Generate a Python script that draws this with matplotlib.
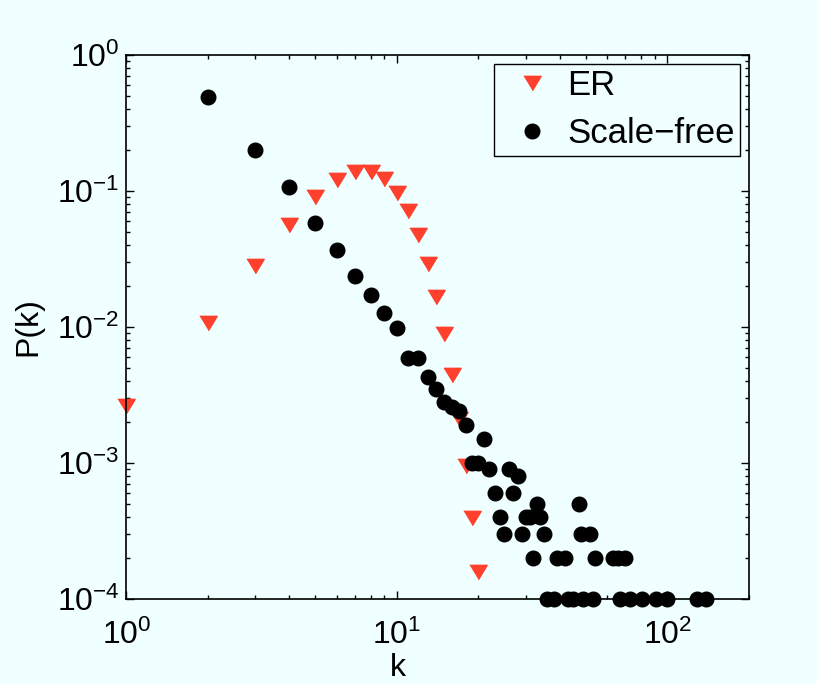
import matplotlib
matplotlib.use("Agg")
import matplotlib.pyplot as plt

# 字体：Helvetica 风格
plt.rcParams["font.family"] = ["Liberation Sans", "DejaVu Sans"]
plt.rcParams["mathtext.fontset"] = "custom"
plt.rcParams["mathtext.rm"] = "Liberation Sans"
plt.rcParams["mathtext.it"] = "Liberation Sans:italic"
plt.rcParams["axes.unicode_minus"] = True

# ER 网络度分布
er_k = [1, 2, 3, 4, 5, 6, 7, 8, 9, 10, 11, 12, 13, 14, 15, 16, 17, 18, 19, 20]
er_p = [0.0026, 0.0106, 0.028, 0.056, 0.090, 0.120, 0.137, 0.137, 0.122, 0.097,
        0.071, 0.047, 0.029, 0.0166, 0.0088, 0.0044, 0.0021, 0.00094, 0.00039, 0.000158]

# 无标度网络度分布
sf_k = [2, 3, 4, 5, 6, 7, 8, 9, 10, 11, 12, 13, 14, 15, 16, 17, 18, 19, 20, 21,
        22, 23, 24, 25, 26, 27, 28, 29, 30, 31, 32, 33, 34, 35, 36, 38, 39, 42, 43, 45,
        47, 48, 49, 52, 53, 54, 63, 66, 67, 70, 73, 81, 91, 100, 129, 139]
sf_p = [0.493, 0.200, 0.106, 0.0577, 0.0367, 0.0236, 0.0170, 0.0126, 0.0098, 0.0059,
        0.0059, 0.0043, 0.0035, 0.0028, 0.00255, 0.0024, 0.0019, 0.0010, 0.0010, 0.0015,
        0.0009, 0.0006, 0.0004, 0.0003, 0.0009, 0.0006, 0.0008, 0.0003, 0.0004, 0.0004,
        0.0002, 0.0005, 0.0004, 0.0003, 0.0001, 0.0001, 0.0002, 0.0002, 0.0001, 0.0001,
        0.0005, 0.0003, 0.0001, 0.0003, 0.0001, 0.0002, 0.0002, 0.0002, 0.0001, 0.0002,
        0.0001, 0.0001, 0.0001, 0.0001, 0.0001, 0.0001]

bg = "#F0FFFF"
red = "#FF402C"

fig = plt.figure(figsize=(8.17, 6.84), dpi=100, facecolor=bg)
ax = fig.add_axes([0.1548, 0.1247, 0.7614, 0.795])
ax.set_facecolor(bg)

# 倒三角，比正常略扁
tri = [(-1, 0.825), (1, 0.825), (0, -0.825)]
ax.plot(er_k, er_p, linestyle="none", marker=tri, markersize=12.5,
        color=red, markeredgecolor=red, label="ER", clip_on=False)
ax.plot(sf_k, sf_p, linestyle="none", marker="o", markersize=10.5,
        color="black", label="Scale\u2212free", clip_on=False, zorder=3)

ax.set_xscale("log")
ax.set_yscale("log")
ax.set_xlim(1, 200)
ax.set_ylim(1e-4, 1)
ax.set_xticks([1, 10, 100])
ax.set_yticks([1e-4, 1e-3, 1e-2, 1e-1, 1])

ax.tick_params(which="both", direction="in", top=True, right=True,
               labelsize=23, width=1.0)
ax.tick_params(axis="x", which="major", length=6, pad=15)
ax.tick_params(axis="y", which="major", length=6, pad=5)
ax.tick_params(which="minor", length=3)
for s in ax.spines.values():
    s.set_linewidth(1.2)

ax.set_xlabel("k", fontsize=23, va="top")
ax.xaxis.set_label_coords(0.4365, -0.1)
ax.set_ylabel("P(k)", fontsize=23, labelpad=10)

# 图例
leg = ax.legend(loc="upper right", bbox_to_anchor=(0.986, 0.983), borderaxespad=0,
                fontsize=25, numpoints=1, fancybox=False, framealpha=1,
                facecolor=bg, edgecolor="black", labelspacing=0.43,
                handletextpad=0.05, borderpad=0.15, handlelength=1.9)
leg.get_frame().set_linewidth(1.0)

fig.savefig("out.png", dpi=100, facecolor=bg)
